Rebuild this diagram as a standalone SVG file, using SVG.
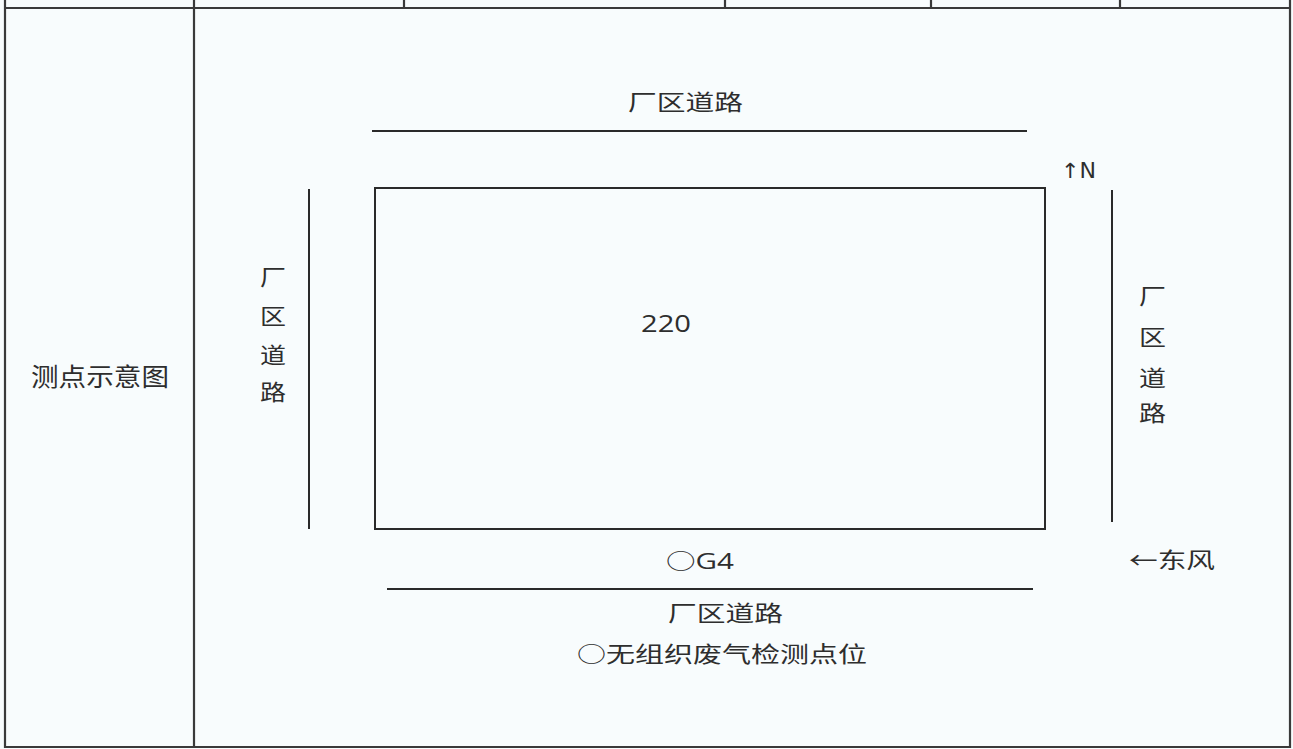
<svg xmlns="http://www.w3.org/2000/svg" width="1293" height="749" viewBox="0 0 1293 749">
<style>
.ln{stroke:#2a2a2a;stroke-width:2;fill:none}
.fr{stroke:#3a3a3a;stroke-width:2.2;fill:none}
.cj{font-family:"Noto Sans CJK SC","Noto Sans",sans-serif;fill:#2e2e2e;font-size:22px}
.la{font-family:"Open Sans","Noto Sans CJK SC",sans-serif;fill:#2e2e2e}
.ar{font-family:"DejaVu Sans",sans-serif;fill:#2e2e2e}
</style>
<rect x="0" y="0" width="1293" height="749" fill="#f8fcfd"/>
<g id="frame">
<line class="fr" x1="5" y1="8" x2="1290" y2="8"/>
<line class="fr" x1="5" y1="0" x2="5" y2="748"/>
<line class="fr" x1="1290" y1="0" x2="1290" y2="748"/>
<line class="fr" x1="5" y1="747" x2="1290" y2="747"/>
<line class="fr" x1="194" y1="0" x2="194" y2="748"/>
<line class="fr" x1="404" y1="0" x2="404" y2="8"/>
<line class="fr" x1="725" y1="0" x2="725" y2="8"/>
<line class="fr" x1="931" y1="0" x2="931" y2="8"/>
<line class="fr" x1="1120" y1="0" x2="1120" y2="8"/>
</g>
<g id="row-label">
<text class="cj" x="31" y="386" style="font-size:25px" textLength="138" lengthAdjust="spacingAndGlyphs">测点示意图</text>
</g>
<g id="connectors">
<line class="ln" x1="372" y1="131" x2="1027" y2="131"/>
<line class="ln" x1="309" y1="189" x2="309" y2="529"/>
<line class="ln" x1="1112" y1="190" x2="1112" y2="522"/>
<line class="ln" x1="387" y1="589" x2="1033" y2="589"/>
</g>
<g id="road-top">
<text class="cj" x="628" y="110" textLength="115" lengthAdjust="spacingAndGlyphs">厂区道路</text>
</g>
<g id="road-bottom">
<text class="cj" x="668" y="621" textLength="115" lengthAdjust="spacingAndGlyphs">厂区道路</text>
</g>
<g id="road-left">
<text class="cj" x="260" y="285" textLength="26" lengthAdjust="spacingAndGlyphs">厂</text>
<text class="cj" x="260" y="324" textLength="26" lengthAdjust="spacingAndGlyphs">区</text>
<text class="cj" x="260" y="363" textLength="26" lengthAdjust="spacingAndGlyphs">道</text>
<text class="cj" x="260" y="400" textLength="26" lengthAdjust="spacingAndGlyphs">路</text>
</g>
<g id="road-right">
<text class="cj" x="1139" y="304" textLength="27" lengthAdjust="spacingAndGlyphs">厂</text>
<text class="cj" x="1139" y="345" textLength="27" lengthAdjust="spacingAndGlyphs">区</text>
<text class="cj" x="1139" y="386" textLength="27" lengthAdjust="spacingAndGlyphs">道</text>
<text class="cj" x="1139" y="421" textLength="27" lengthAdjust="spacingAndGlyphs">路</text>
</g>
<g id="plant-220">
<rect class="ln" x="375" y="188" width="670" height="341"/>
<text class="la" x="641" y="332" style="font-size:24px" textLength="50" lengthAdjust="spacingAndGlyphs">220</text>
</g>
<g id="north">
<text class="ar" x="1061" y="178" style="font-size:21px" textLength="35" lengthAdjust="spacingAndGlyphs">↑N</text>
</g>
<g id="wind">
<text class="cj" x="1129" y="568" textLength="86" lengthAdjust="spacingAndGlyphs">←东风</text>
</g>
<g id="G4">
<text class="la" x="666" y="569" style="font-size:22px" textLength="68" lengthAdjust="spacingAndGlyphs">○G4</text>
</g>
<g id="legend">
<text class="cj" x="577" y="662" textLength="290" lengthAdjust="spacingAndGlyphs">○无组织废气检测点位</text>
</g>
</svg>
